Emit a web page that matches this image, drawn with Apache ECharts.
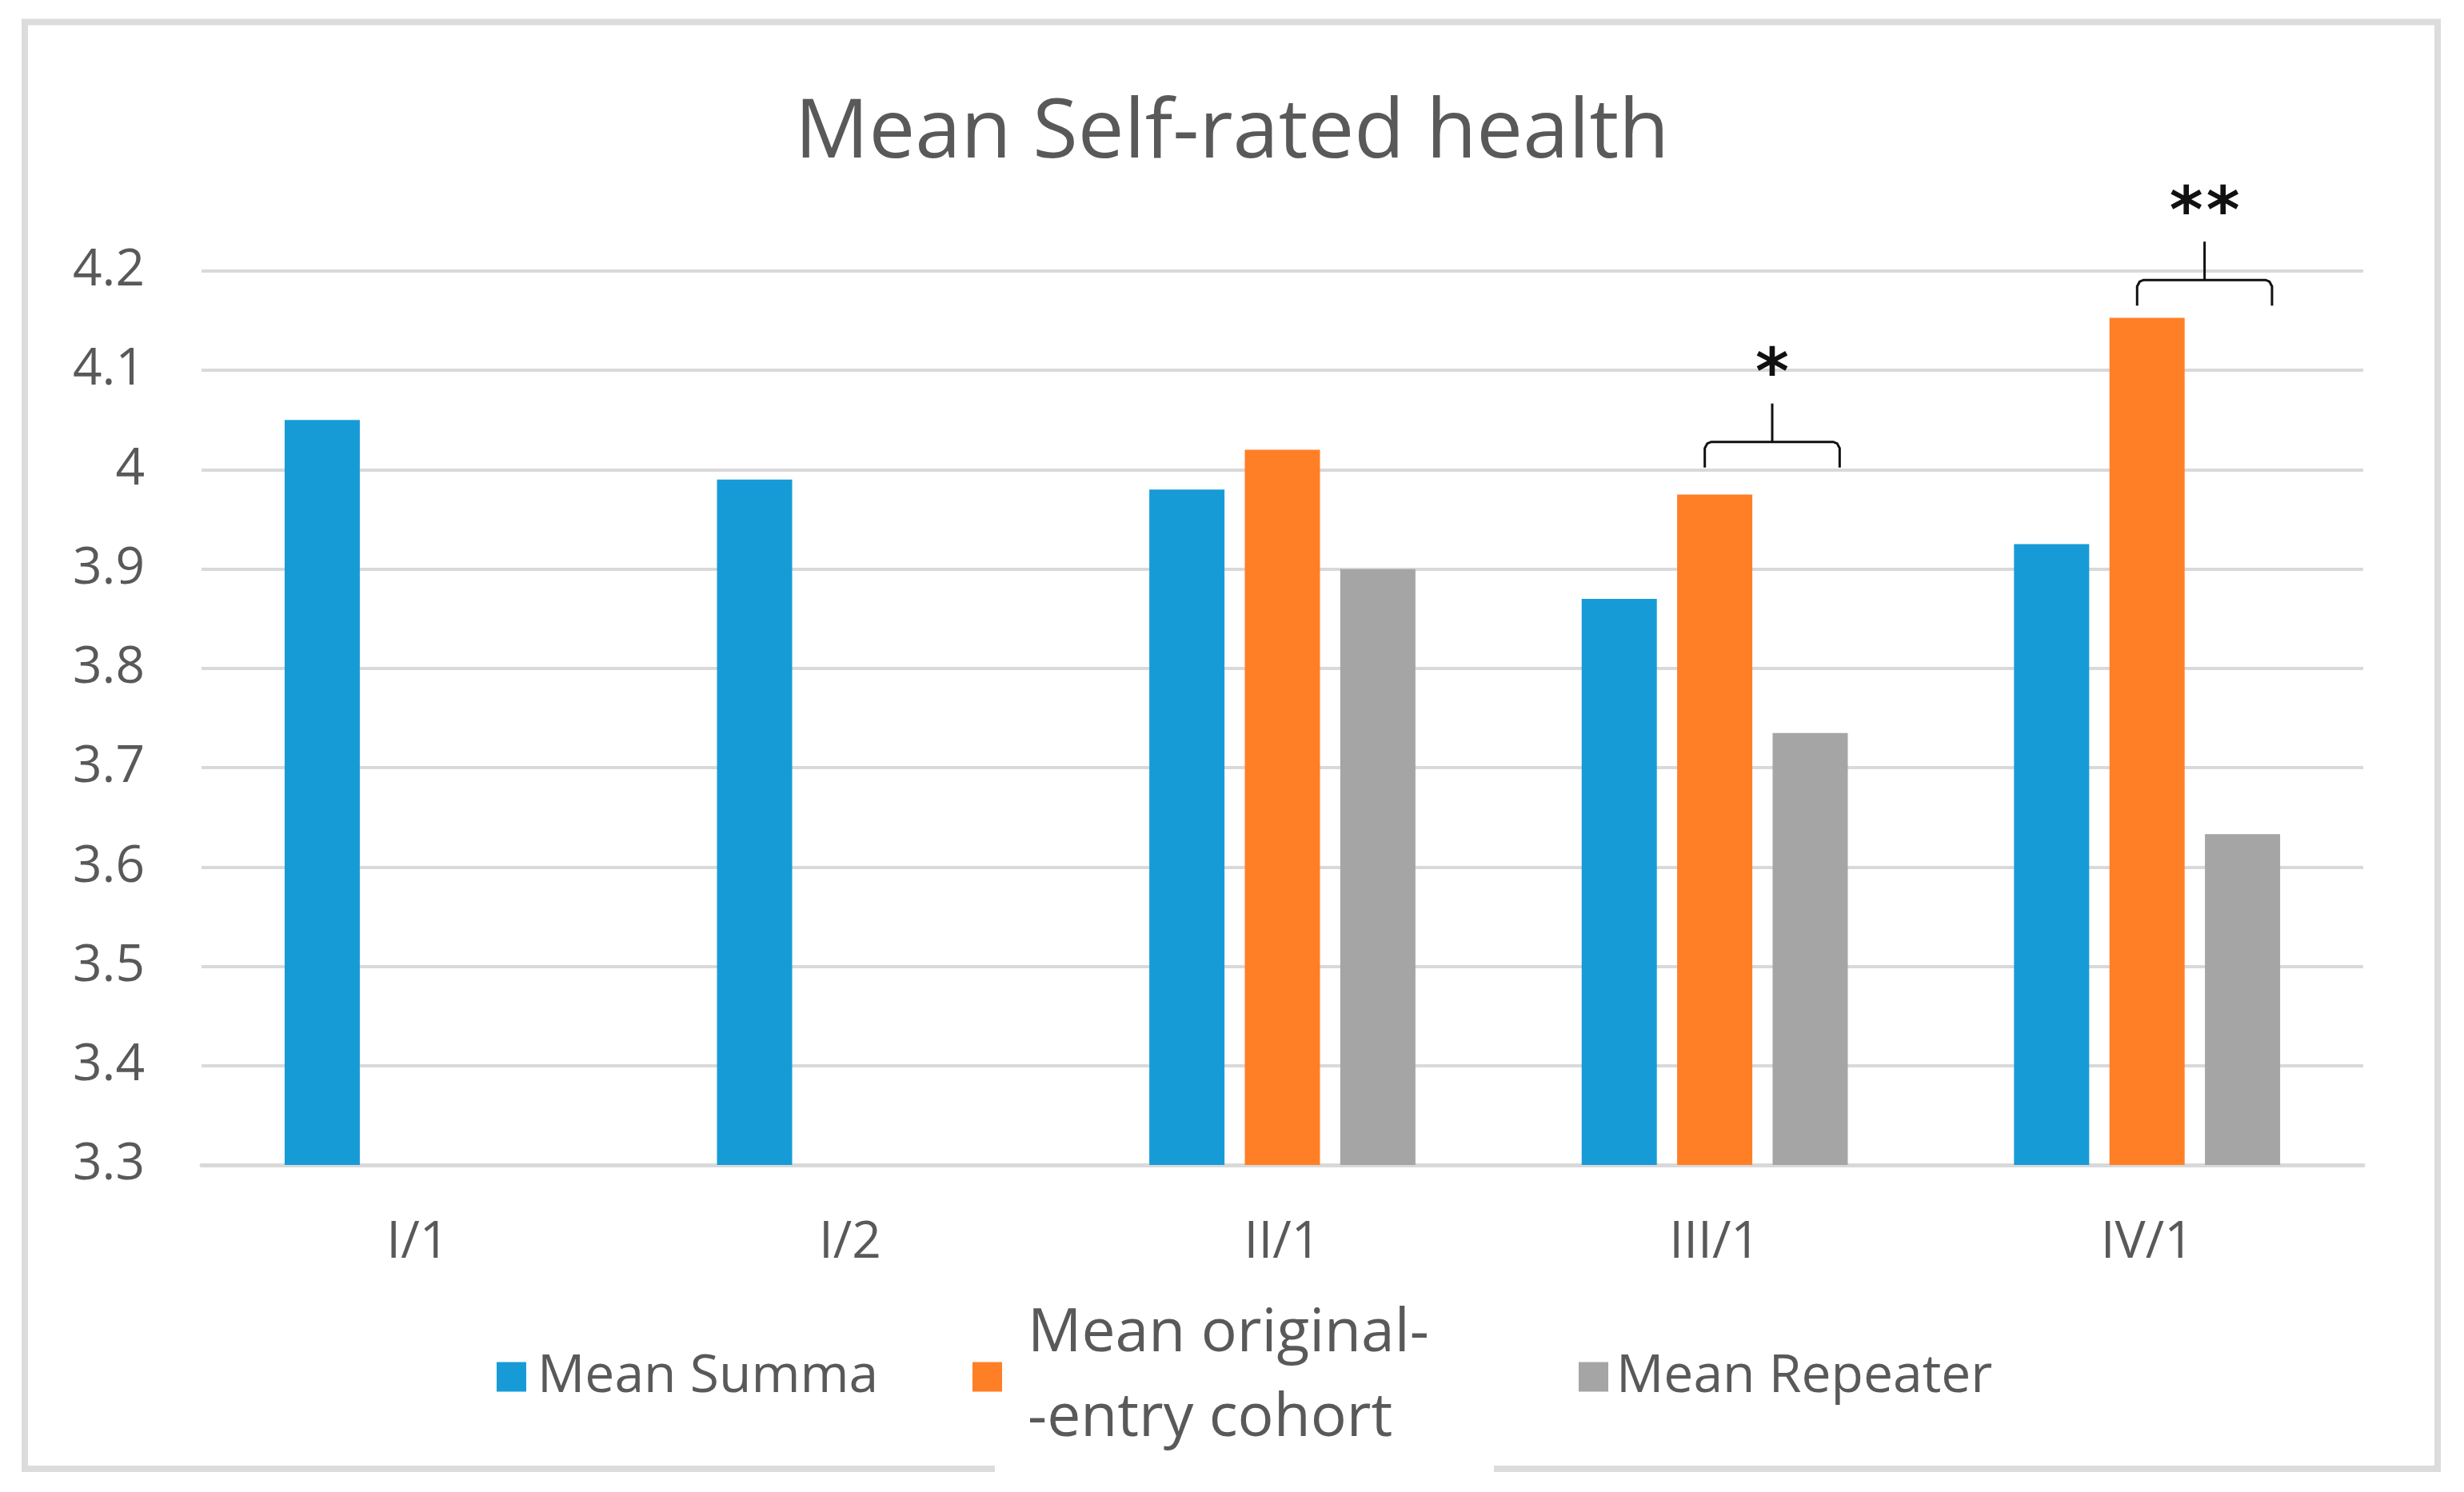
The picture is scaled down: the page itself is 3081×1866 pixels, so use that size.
<!DOCTYPE html>
<html>
<head>
<meta charset="utf-8">
<script src="https://cdn.jsdelivr.net/npm/echarts@6/dist/echarts.min.js"></script>
<style>
html,body{margin:0;padding:0;background:#fff;}
#chart{width:3081px;height:1866px;}
</style>
</head>
<body>
<div id="chart"></div>
<script>
// ---- data ----
const categories = ['I/1', 'I/2', 'II/1', 'III/1', 'IV/1'];
const meanSumma = [4.05, 3.99, 3.98, 3.87, 3.925];
const meanOriginal = [null, null, 4.02, 3.975, 4.153];
const meanRepeater = [null, null, 3.90, 3.735, 3.633];
const yTicks = { min: 3.3, max: 4.2, interval: 0.1 };
const seriesNames = ['Mean Summa', 'Mean original-\n-entry cohort', 'Mean Repeater'];
// significance brackets (category, bracket level in axis units, stars)
const bracketCats = ['III/1', 'IV/1'];
const bracketLevels = [4.028, 4.191];
const bracketStars = ['*', '**'];

// ---- style ----
const FONT = 'Open Sans';
const TXT = '#595959';
const GRID = '#d9d9d9';
const colors = ['#179BD7', '#FF7F27', '#A5A5A5'];

const chart = echarts.init(document.getElementById('chart'), null, { renderer: 'canvas' });

function legendStyle(fs, padLeft) {
  return {
    orient: 'horizontal',
    selectedMode: false,
    icon: 'rect',
    itemWidth: 37,
    itemHeight: 37,
    textStyle: { fontFamily: FONT, fontSize: fs, color: TXT, lineHeight: 106, padding: [0, 0, 0, padLeft] }
  };
}

function renderBracket(params, api) {
  const idx = api.value(0);
  const level = api.value(1);
  const p = api.coord([idx, level]);
  const bw = api.size([1, 0])[0];
  const c = p[0] + bw * 0.133;
  const half = bw * 0.156;
  const H = p[1];
  const L = c - half, R = c + half;
  const drop = 32, spike = 48, r = 8;
  const stars = bracketStars[params.dataIndex];
  const children = [
    {
      type: 'polyline',
      shape: { points: [[L, H + drop], [L, H + r], [L + r * 0.4, H + r * 0.25], [L + r, H], [R - r, H], [R - r * 0.4, H + r * 0.25], [R, H + r], [R, H + drop]] },
      style: { stroke: '#111', lineWidth: 3, fill: null }
    },
    {
      type: 'line',
      shape: { x1: c, y1: H, x2: c, y2: H - spike },
      style: { stroke: '#111', lineWidth: 3 }
    }
  ];
  const fs = 80;
  const starY = H - 98 + 0.21 * fs;
  const n = stars.length;
  const sp = 46;
  for (let i = 0; i < n; i++) {
    children.push({
      type: 'text',
      style: {
        text: '*', x: c + (i - (n - 1) / 2) * sp, y: starY,
        fontSize: fs, fontWeight: 'bold', fontFamily: 'DejaVu Sans',
        fill: '#111', align: 'center', verticalAlign: 'middle'
      }
    });
  }
  return { type: 'group', children: children };
}

const option = {
  animation: false,
  backgroundColor: '#ffffff',
  color: colors,
  title: {
    text: 'Mean Self-rated health',
    left: 'center',
    top: 116,
    padding: 0,
    textStyle: { fontFamily: FONT, fontSize: 103, fontWeight: 'normal', color: TXT, lineHeight: 103 }
  },
  legend: [
    Object.assign(legendStyle(66, 9), { data: [seriesNames[0]], left: 616, top: 1664 }),
    Object.assign(legendStyle(75, 27), { data: [seriesNames[1]], left: 1211, top: 1611 }),
    Object.assign(legendStyle(66, 5), { data: [seriesNames[2]], left: 1969, top: 1664 })
  ],
  grid: { left: 252, right: 126, top: 339, bottom: 409, containLabel: false },
  xAxis: {
    type: 'category',
    data: categories,
    axisTick: { show: false },
    axisLine: { show: true, lineStyle: { color: GRID, width: 5 } },
    axisLabel: { fontFamily: FONT, fontSize: 64, color: TXT, margin: 66, lineHeight: 64 }
  },
  yAxis: {
    type: 'value',
    min: yTicks.min,
    max: yTicks.max,
    interval: yTicks.interval,
    axisLine: { show: false },
    axisTick: { show: false },
    splitLine: { show: true, lineStyle: { color: GRID, width: 4 } },
    axisLabel: {
      fontFamily: FONT, fontSize: 64, color: TXT, margin: 71,
      formatter: function (v) { return String(Math.round(v * 10) / 10); }
    }
  },
  series: [
    { name: seriesNames[0], type: 'bar', data: meanSumma, barWidth: 94, barGap: '27%', itemStyle: { color: colors[0] } },
    { name: seriesNames[1], type: 'bar', data: meanOriginal, barWidth: 94, barGap: '27%', itemStyle: { color: colors[1] } },
    { name: seriesNames[2], type: 'bar', data: meanRepeater, barWidth: 94, barGap: '27%', itemStyle: { color: colors[2] } },
    {
      name: 'significance',
      type: 'custom',
      clip: false,
      silent: true,
      z: 10,
      data: bracketCats.map(function (c, i) { return [c, bracketLevels[i]]; }),
      renderItem: renderBracket
    }
  ],
  graphic: [
    { type: 'rect', z: 100, shape: { x: 31, y: 27.5, width: 3017, height: 1809.5 }, style: { fill: null, stroke: '#dcdcdc', lineWidth: 8 }, silent: true },
    { type: 'rect', z: 101, shape: { x: 1244, y: 1830, width: 624, height: 14 }, style: { fill: '#ffffff' }, silent: true }
  ]
};

chart.setOption(option);
</script>
</body>
</html>
